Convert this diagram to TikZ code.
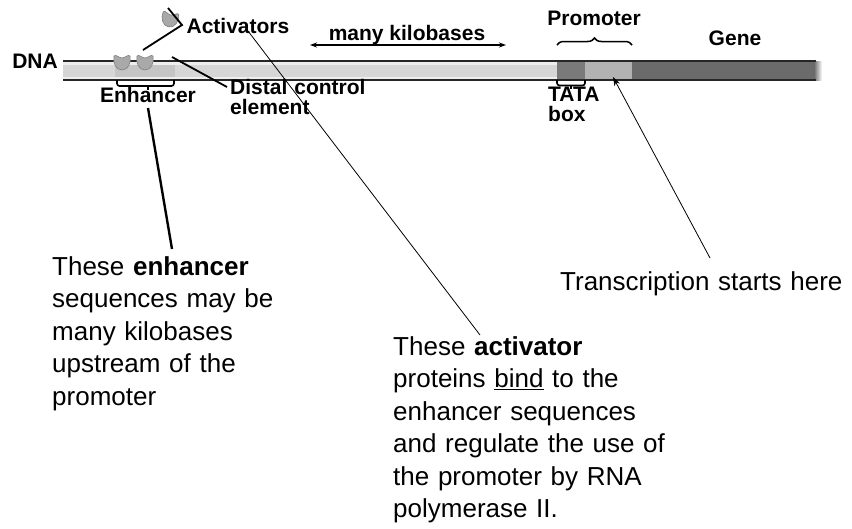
\documentclass[tikz,border=0pt]{standalone}
\usepackage{fontspec}
\setmainfont{Liberation Sans}
\usetikzlibrary{decorations.pathreplacing,arrows.meta}
\definecolor{stripe}{HTML}{D6D6D6}
\definecolor{barbg}{HTML}{EEEEEE}
\definecolor{tatafill}{HTML}{7A7A7A}
\definecolor{promfill}{HTML}{B2B2B2}
\definecolor{genefill}{HTML}{6B6B6B}
\definecolor{protfill}{HTML}{A9A9A9}
\definecolor{protedge}{HTML}{7E7E7E}
\begin{document}
\begin{tikzpicture}[x=1pt,y=-1pt,
  lbl/.style={font=\fontsize{21}{20}\selectfont\bfseries, inner sep=0pt},
  body/.style={font=\fontsize{26}{32.5}\selectfont, inner sep=0pt, align=left,
    anchor=base west, text width=#1},
  lead/.style={line width=1.8pt},
  thinlead/.style={line width=0.8pt},
  bracket/.style={line width=1.6pt, rounded corners=2.5pt},
  protein/.pic={
    \filldraw[fill=protfill, draw=protedge, line width=0.6pt]
      (-8,-6) .. controls (-9.5,1) and (-6,8) .. (0,8)
      .. controls (6,8) and (9.5,1) .. (8,-6)
      .. controls (6,-8) and (3,-4) .. (0,-4)
      .. controls (-3,-4) and (-6,-8) .. (-8,-6) -- cycle;
  }
]
\useasboundingbox (0,0) rectangle (852,528);

% DNA double line with shaded segments
\fill[barbg] (63,61) rectangle (557,80);
\fill[stripe] (63,64.5) rectangle (557,77);
\fill[stripe!92!black] (115,64.5) rectangle (175,77);
\fill[tatafill] (557,61) rectangle (585,80);
\fill[promfill] (585,61) rectangle (632,80);
\fill[genefill] (632,61) rectangle (814,80);
\shade[left color=genefill, right color=white] (814,61) rectangle (822,80);
\draw[line width=1.3pt, black!85] (63,61) -- (816,61);
\draw[line width=1.3pt, black!85] (63,80) -- (816,80);

% bound proteins
\pic at (122,62) {protein};
\pic at (145,62) {protein};
\pic[rotate=-10] at (170,19) {protein};

% labels
\node[lbl] (dna) at (35,61) {DNA};
\node[lbl, anchor=base] (act) at (238,33) {Activators};
\node[lbl, anchor=base] (kb) at (407,40) {many kilobases};
\node[lbl, anchor=base] (prom) at (594,25) {Promoter};
\node[lbl, anchor=base] (gene) at (735,45) {Gene};
\node[lbl, anchor=base] (enh) at (148,102) {Enhancer};
\node[lbl, anchor=base west, align=left, text width=150pt] (distal) at (230,94) {Distal control\\element};
\node[lbl, anchor=base west, align=left, text width=60pt] (tata) at (548,101) {TATA\\box};

% explanatory text
\node[body=260pt] (enhtext) at (52,275)
  {These \textbf{enhancer}\\sequences may be\\many kilobases\\upstream of the\\promoter};
\node[body=300pt] (acttext) at (393,355)
  {These \textbf{activator}\\proteins \underline{bind} to the\\enhancer sequences\\and regulate the use of\\the promoter by RNA\\polymerase II.};
\node[body=300pt] (tstext) at (560,290) {Transcription starts here};

% connector end points
\coordinate (actA) at (168,8);
\coordinate (actV) at (182,25);
\coordinate (actB) at (143,50);
\coordinate (distalsite) at (172,57);
\coordinate (distalend) at (227,87);
\coordinate (enhfoot) at (148,108);
\coordinate (enhtip) at (172,249);
\coordinate (actfoot) at (248,31);
\coordinate (acttip) at (480,335);
\coordinate (tsstart) at (613,77);
\coordinate (tsfoot) at (710,258);
\coordinate (kbL) at (310,45);
\coordinate (kbR) at (506,45);

% connectors
\draw[lead, line join=miter] (actA) -- (actV) -- (actB);
\draw[lead] (distalsite) -- (distalend);
\draw[line width=2.4pt] (enhfoot) -- (enhtip);
\draw[thinlead] (actfoot) -- (acttip);
\draw[thinlead, -{Stealth[length=9pt,width=6pt]}] (tsfoot) -- (tsstart);
\draw[line width=1.2pt, {Stealth[length=7pt,width=5pt]}-{Stealth[length=7pt,width=5pt]}] (kbL) -- (kbR);

% brackets
\draw[bracket] (117,80) -- (117,86) -- (174,86) -- (174,80);
\draw[line width=1.6pt] (148,86) -- (148,90);
\draw[bracket] (557,80) -- (557,85.5) -- (585,85.5) -- (585,80);
\draw[line width=1.6pt] (571,85.5) -- (571,89);
\draw[line width=1.5pt, decorate, decoration={brace, amplitude=7pt}] (557,45) -- (632,45);
\end{tikzpicture}
\end{document}
